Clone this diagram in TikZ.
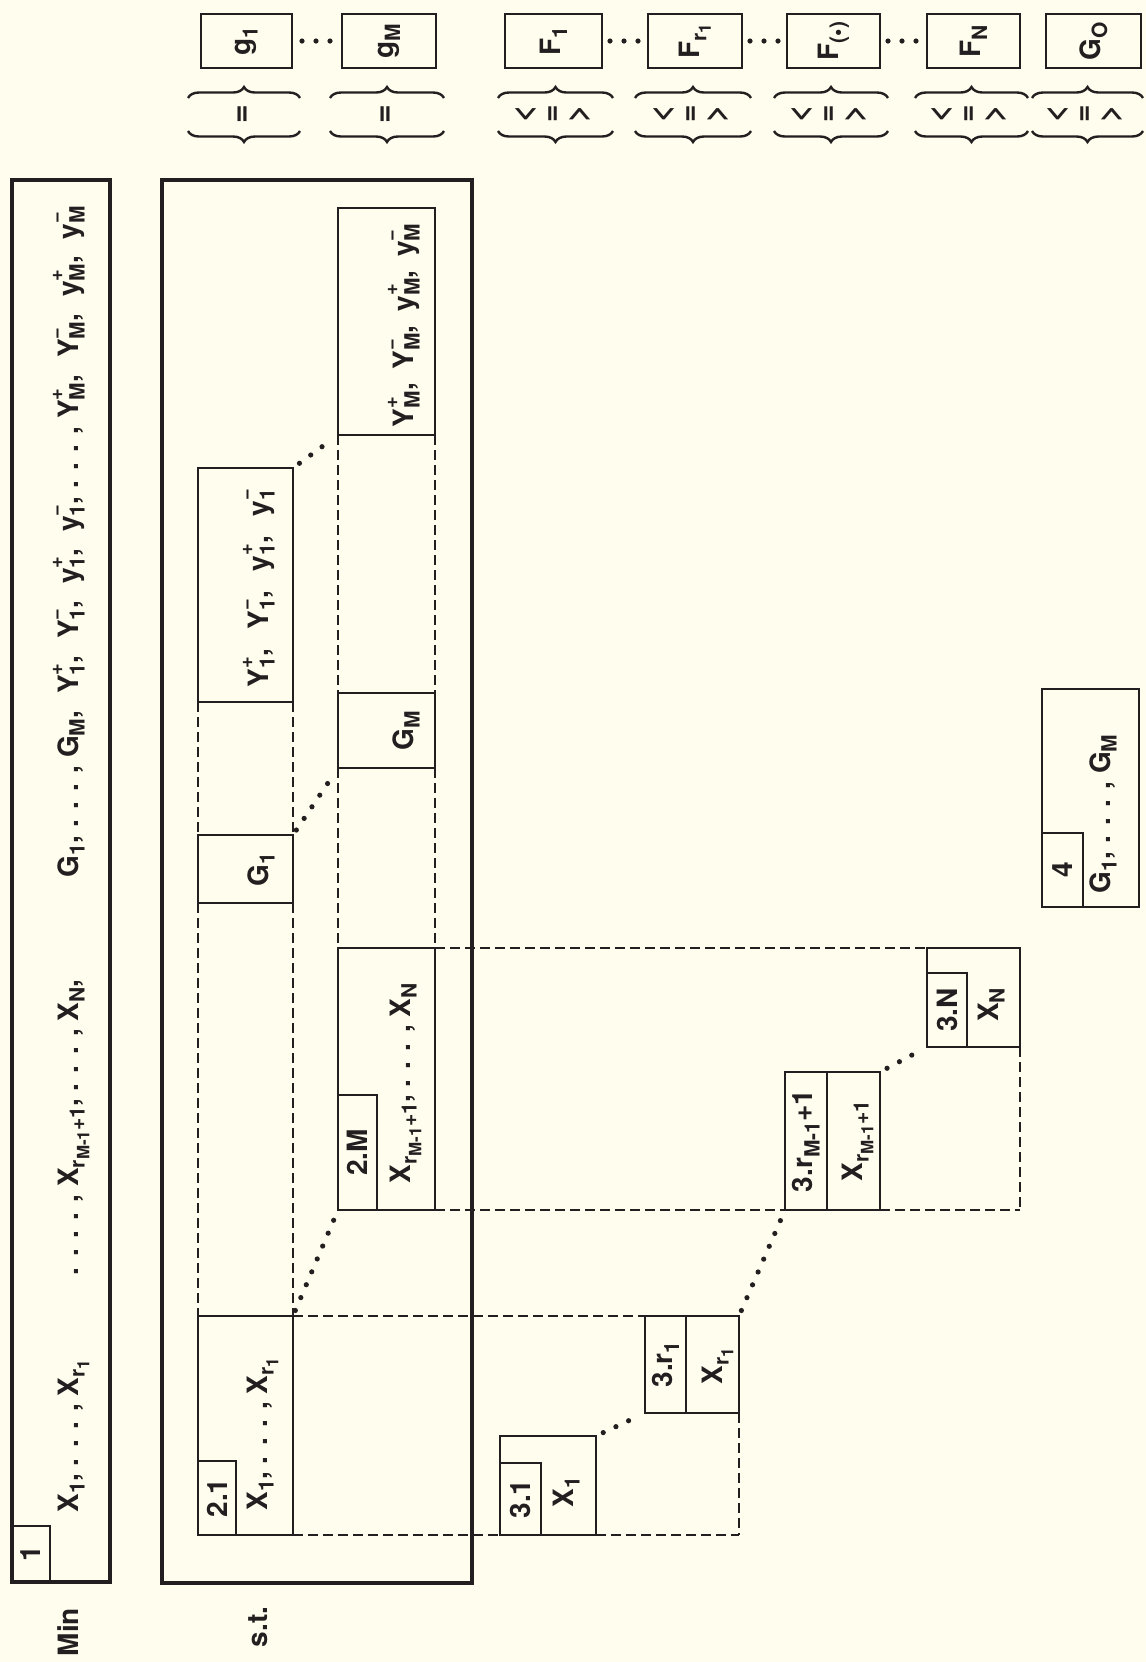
\documentclass[tikz,border=0pt]{standalone}
\usepackage{fontspec}
\setmainfont{TeX Gyre Heros}
\usetikzlibrary{fit,decorations.pathreplacing,calc}
\definecolor{bg}{RGB}{254,253,238}
\definecolor{ink}{RGB}{35,31,32}
\newcommand{\sbs}[1]{\raisebox{-0.24em}{\fontsize{10.5}{10.5}\selectfont #1}}
\newcommand{\ssbs}[1]{\raisebox{-0.22em}{\fontsize{8.5}{8.5}\selectfont #1}}
\newcommand{\ssp}[2]{\rlap{\raisebox{0.55em}{\fontsize{10}{10}\selectfont #2}}\raisebox{-0.24em}{\fontsize{10.5}{10.5}\selectfont #1}}
\newcommand{\cm}{,\hspace{3pt} }
\newcommand{\cmm}{,\hspace{4.6pt} }
\newcommand{\cmw}{,\hspace{6pt} }
\begin{document}
\begin{tikzpicture}[x=0.5pt,y=-0.5pt,
  every node/.style={inner sep=0pt, outer sep=0pt},
  bx/.style={draw=ink, line width=1.4pt, inner sep=0pt, outer sep=0pt},
  obx/.style={draw=ink, line width=1.7pt, inner sep=0pt, outer sep=0pt},
  txt/.style={rotate=90, text=ink, font=\fontsize{14}{16}\selectfont\bfseries},
  rel/.style={rotate=90, text=ink, align=center, font=\fontsize{15}{13.5}\selectfont\bfseries},
  dashln/.style={draw=ink, line width=1pt, dash pattern=on 5pt off 2.5pt},
  dotln/.style={draw=ink, line width=2.6pt, line cap=round, dash pattern=on 0pt off 7pt},
  brc/.style={draw=ink, line width=1.2pt, decorate, decoration={brace, amplitude=5.5pt}},
]
\fill[bg] (0,0) rectangle (1146,1662);
\useasboundingbox (0,0) rectangle (1146,1662);

% ---------- top row ----------
\node[bx, fit={(201,14) (292,68)}] (bg1) {};
\node[txt] (tg1) at (bg1) {g\sbs{1}};
\node[bx, fit={(342,14) (436,68)}] (bgM) {};
\node[txt] (tgM) at (bgM) {g\sbs{M}};
\node[bx, fit={(505,14) (602,68)}] (bF1) {};
\node[txt] (tF1) at (bF1) {F\sbs{1}};
\node[bx, fit={(648,14) (742,68)}] (bFr) {};
\node[txt] (tFr) at (bFr) {F\sbs{r\ssbs{1}}};
\node[bx, fit={(787,14) (880,68)}] (bFd) {};
\node[txt] (tFd) at (bFd) {F\sbs{(•)}};
\node[bx, fit={(927,14) (1020,68)}] (bFN) {};
\node[txt] (tFN) at (bFN) {F\sbs{N}};
\node[bx, fit={(1046,14) (1141,68)}] (bGO) {};
\node[txt] (tGO) at (bGO) {G\sbs{O}};

\draw[dotln, shorten <=5pt, shorten >=4pt] (bg1.east) -- (bgM.west);
\draw[dotln, shorten <=4pt, shorten >=4pt] (bF1.east) -- (bFr.west);
\draw[dotln, shorten <=4pt, shorten >=4pt] (bFr.east) -- (bFd.west);
\draw[dotln, shorten <=4pt, shorten >=4pt] (bFd.east) -- (bFN.west);

% braces
\draw[brc] (188,98) -- (300,98);  \draw[brc] (300,131) -- (188,131);
\draw[brc] (330,98) -- (444,98);  \draw[brc] (444,131) -- (330,131);
\draw[brc] (498,98) -- (613,98);  \draw[brc] (613,131) -- (498,131);
\draw[brc] (635,98) -- (751,98);  \draw[brc] (751,131) -- (635,131);
\draw[brc] (774,98) -- (888,98);  \draw[brc] (888,131) -- (774,131);
\draw[brc] (915,98) -- (1028,98); \draw[brc] (1028,131) -- (915,131);
\draw[brc] (1032,98) -- (1143,98); \draw[brc] (1143,131) -- (1032,131);
\node[txt, font=\fontsize{16}{16}\selectfont\bfseries] (e1) at (244,114) {=};
\node[txt, font=\fontsize{16}{16}\selectfont\bfseries] (e2) at (387,114) {=};
\node[rel] (r1) at (553,114) {<\\=\\>};
\node[rel] (r2) at (691,114) {<\\=\\>};
\node[rel] (r3) at (829,114) {<\\=\\>};
\node[rel] (r4) at (969,114) {<\\=\\>};
\node[rel] (r5) at (1085,114) {<\\=\\>};

% ---------- objective ----------
\node[obx, fit={(12,180) (110,1582)}] (bmin) {};
\node[bx, fit={(12,1526) (50,1582)}] (l1) {};
\node[txt] (tl1) at (l1) {1};
\node[txt, anchor=base west] (m1) at (78,1512) {X\sbs{1}, . . . , X\sbs{r\ssbs{1}}};
\node[txt, anchor=base west] (m2) at (78,1275) {. . . . , X\sbs{r\ssbs{M-1}+1}, . . . , X\sbs{N},};
\node[txt, anchor=base west] (m3) at (78,877) {G\sbs{1}, . . . , G\sbs{M}\cmm Y\ssp{1}{+}\cmm Y\ssp{1}{−}\cmm y\ssp{1}{+}\cmm y\ssp{1}{−}, . . . , Y\ssp{M}{+}\cmm Y\ssp{M}{−}\cmm y\ssp{M}{+}\cmm y\ssp{M}{−}};
\node[txt, anchor=base] (tMin) at (78,1632) {Min};

% ---------- constraints ----------
\node[obx, fit={(162,180) (472,1583)}] (bst) {};
\node[txt, anchor=base] (tst) at (267,1627) {s.t.};

% column 1
\node[bx, fit={(198,468) (293,702)}] (bY1) {};
\node[txt, anchor=base west] (tY1) at (268,687) {Y\ssp{1}{+}\cmw Y\ssp{1}{−}\cmw y\ssp{1}{+}\cmw y\ssp{1}{−}};
\node[bx, fit={(198,835) (293,903)}] (bG1) {};
\node[txt, anchor=base] (tG1) at (268,870) {G\sbs{1}};
\node[bx, fit={(198,1316) (293,1535)}] (b21) {};
\node[bx, fit={(198,1461) (236,1535)}] (l21) {};
\node[txt] (tl21) at (l21) {2.1};
\node[txt, anchor=base west] (t21) at (267,1510) {X\sbs{1}, . . . , X\sbs{r\ssbs{1}}};

% column 2
\node[bx, fit={(338,208) (435,435)}] (bYM) {};
\node[txt, anchor=base west] (tYM) at (413,427) {Y\ssp{M}{+}\cm Y\ssp{M}{−}\cm y\ssp{M}{+}\cm y\ssp{M}{−}};
\node[bx, fit={(338,693) (435,768)}] (bGM) {};
\node[txt, anchor=base] (tGM) at (413,731) {G\sbs{M}};
\node[bx, fit={(338,948) (435,1210)}] (b2M) {};
\node[bx, fit={(338,1095) (377,1210)}] (l2M) {};
\node[txt] (tl2M) at (l2M) {2.M};
\node[txt, anchor=base west] (t2M) at (410,1183) {X\sbs{r\ssbs{M-1}+1}, . . . , X\sbs{N}};

% level-3 boxes
\node[bx, fit={(500,1436) (596,1535)}] (b31) {};
\node[bx, fit={(500,1463) (541,1535)}] (l31) {};
\node[txt] (tl31) at (l31) {3.1};
\node[txt, anchor=base] (t31) at (573,1492) {X\sbs{1}};

\node[bx, fit={(645,1316) (739,1413)}] (b3r1) {};
\node[bx, fit={(645,1316) (686,1413)}] (l3r1) {};
\node[txt] (tl3r1) at (l3r1) {3.r\sbs{1}};
\node[txt, anchor=base] (t3r1) at (722,1366) {X\sbs{r\ssbs{1}}};

\node[bx, fit={(785,1072) (880,1210)}] (b3rM) {};
\node[bx, fit={(785,1072) (827,1210)}] (l3rM) {};
\node[txt] (tl3rM) at (l3rM) {3.r\sbs{M-1}+1};
\node[txt, anchor=base] (t3rM) at (862,1141) {X\sbs{r\ssbs{M-1}+1}};

\node[bx, fit={(927,948) (1020,1047)}] (b3N) {};
\node[bx, fit={(927,973) (967,1047)}] (l3N) {};
\node[txt] (tl3N) at (l3N) {3.N};
\node[txt, anchor=base] (t3N) at (998,1005) {X\sbs{N}};

% box 4
\node[bx, fit={(1042,689) (1139,907)}] (b4) {};
\node[bx, fit={(1042,833) (1083,907)}] (l4) {};
\node[txt] (tl4) at (l4) {4};
\node[txt, anchor=base west] (t4) at (1110,893) {G\sbs{1}, . . . , G\sbs{M}};

% dashed guide lines
\draw[dashln] (bY1.south west) -- (bG1.north west);
\draw[dashln] (bY1.south east) -- (bG1.north east);
\draw[dashln] (bG1.south west) -- (b21.north west);
\draw[dashln] (bG1.south east) -- (b21.north east);
\draw[dashln] (bYM.south west) -- (bGM.north west);
\draw[dashln] (bYM.south east) -- (bGM.north east);
\draw[dashln] (bGM.south west) -- (b2M.north west);
\draw[dashln] (bGM.south east) -- (b2M.north east);

\draw[dashln] (b21.north east) -- (b21.north east -| b3r1.west);
\draw[dashln] (b3r1.south east) -- (b3r1.south east |- b21.south);
\draw[dashln] (b21.south east) -- (b31.south west);
\draw[dashln] (b31.south east) -- (b31.south east -| b3r1.east);

\draw[dashln] (b2M.north east) -- (b2M.north east -| b3N.west);
\draw[dashln] (b3N.south east) -- (b3N.south east |- b2M.south);
\draw[dashln] (b2M.south east) -- (b3rM.south west);
\draw[dashln] (b3rM.south east) -- (b3rM.south east -| b3N.east);

% dotted links
\draw[dotln, shorten <=3pt, shorten >=3pt] (b21.north east) -- (b2M.south west);
\draw[dotln, shorten <=4pt, shorten >=4pt] (b31.north east) -- (b3r1.south west);
\draw[dotln, shorten <=3pt, shorten >=3pt] (b3r1.north east) -- (b3rM.south west);
\draw[dotln, shorten <=4pt, shorten >=4pt] (b3rM.north east) -- (b3N.south west);
\draw[dotln, shorten <=3pt, shorten >=3pt] (bG1.north east) -- (bGM.south west);
\draw[dotln, shorten <=4pt, shorten >=4pt] (bY1.north east) -- (bYM.south west);
\end{tikzpicture}
\end{document}
